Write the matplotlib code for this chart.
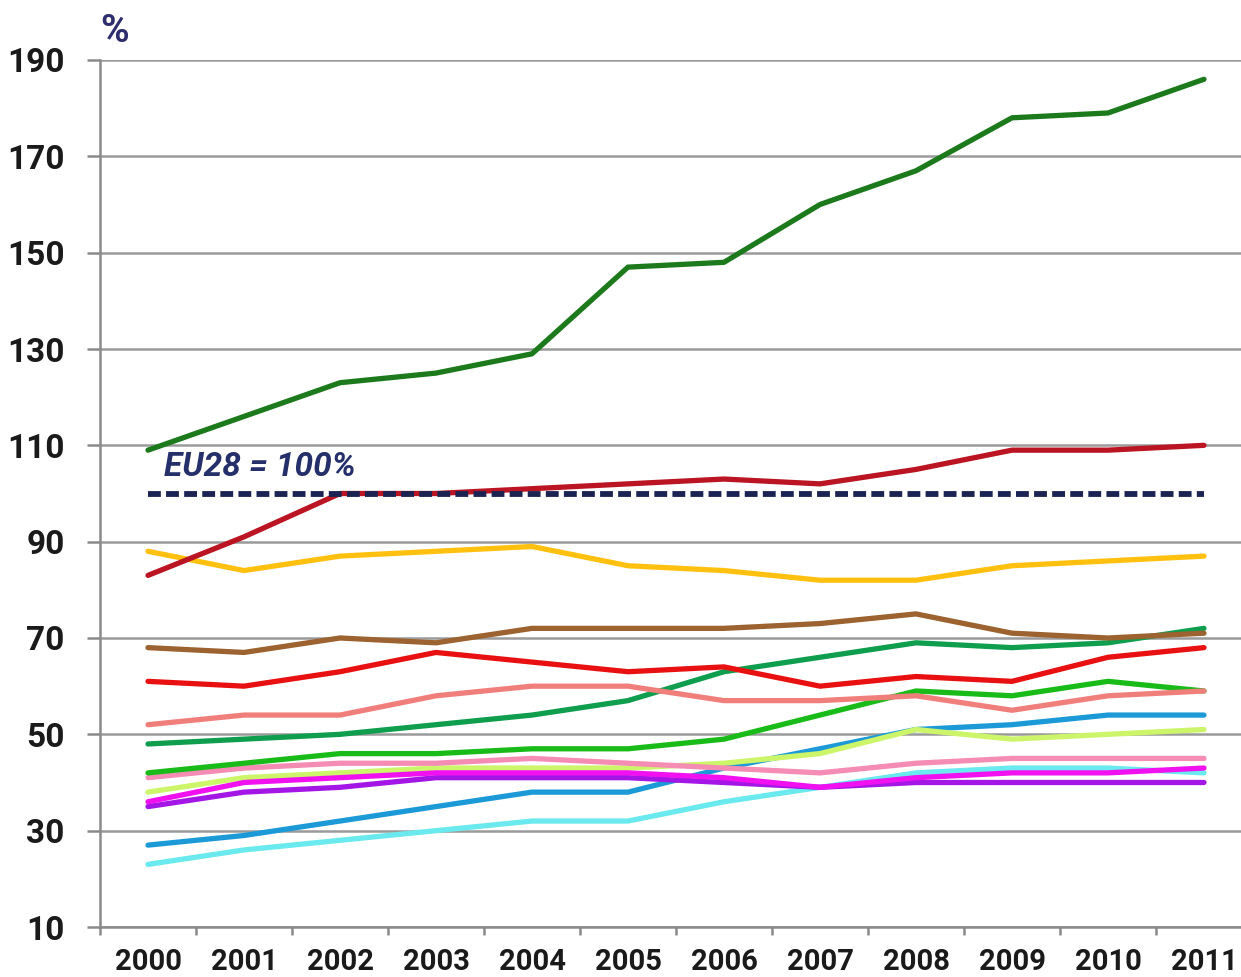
import numpy as np
import matplotlib
matplotlib.use('Agg')
import matplotlib.pyplot as plt

plt.rcParams['font.family'] = ['Roboto', 'DejaVu Sans']

years = ['2000', '2001', '2002', '2003', '2004', '2005',
         '2006', '2007', '2008', '2009', '2010', '2011']

eu28 = [100] * 12

dark_green = [109, 116, 123, 125, 129, 147, 148, 160, 167, 178, 179, 186]
dark_red = [83, 91, 100, 100, 101, 102, 103, 102, 105, 109, 109, 110]
gold = [88, 84, 87, 88, 89, 85, 84, 82, 82, 85, 86, 87]
brown = [68, 67, 70, 69, 72, 72, 72, 73, 75, 71, 70, 71]
red = [61, 60, 63, 67, 65, 63, 64, 60, 62, 61, 66, 68]
salmon = [52, 54, 54, 58, 60, 60, 57, 57, 58, 55, 58, 59]
sea_green = [48, 49, 50, 52, 54, 57, 63, 66, 69, 68, 69, 72]
bright_green = [42, 44, 46, 46, 47, 47, 49, 54, 59, 58, 61, 59]
yellow_green = [38, 41, 42, 43, 43, 43, 44, 46, 51, 49, 50, 51]
blue = [27, 29, 32, 35, 38, 38, 43, 47, 51, 52, 54, 54]
cyan = [23, 26, 28, 30, 32, 32, 36, 39, 42, 43, 43, 42]
pink = [41, 43, 44, 44, 45, 44, 43, 42, 44, 45, 45, 45]
purple = [35, 38, 39, 41, 41, 41, 40, 39, 40, 40, 40, 40]
magenta = [36, 40, 41, 42, 42, 42, 41, 39, 41, 42, 42, 43]

series = [
    (cyan, '#6ae9ef'),
    (blue, '#1c9ad8'),
    (yellow_green, '#ccf56a'),
    (pink, '#f58cb4'),
    (purple, '#a316e6'),
    (magenta, '#f010f0'),
    (bright_green, '#19bb19'),
    (sea_green, '#0f9d4e'),
    (salmon, '#f07f7c'),
    (red, '#e81010'),
    (brown, '#9c6230'),
    (gold, '#ffc010'),
    (dark_red, '#bb1422'),
    (dark_green, '#1c7a1c'),
]

W, H = 1241, 977
fig = plt.figure(figsize=(W / 100, H / 100), dpi=100)
# category axis: 2000 centred at x=148, 96px per year, runs past the right edge
ax = fig.add_axes([100 / W, 50 / H, 1152 / W, 867 / H])

x = np.arange(len(years))
for vals, col in series:
    ax.plot(x, vals, color=col, lw=3.8, solid_capstyle='round', zorder=3)

ax.plot(x, eu28, color='#1b2352', lw=4.2, dashes=(2.2, 0.9), zorder=4)
ax.text(0.17, 102.2, 'EU28 = 100%', color='#25306a', fontsize=24,
        fontweight='bold', fontstyle='italic', va='bottom', ha='left', zorder=5)

ax.set_xlim(-0.5, 11.5)
ax.set_ylim(10, 190)
ax.set_yticks(np.arange(10, 191, 20))
ax.set_xticks(np.arange(-0.5, 12, 1))
ax.set_xticklabels([])
ax.set_xticks(x, minor=True)
ax.set_xticklabels(years, minor=True)

ax.grid(axis='y', color='#9a9a9a', lw=1.8, zorder=1)
for s in ['top', 'right']:
    ax.spines[s].set_visible(False)
for s in ['left', 'bottom']:
    ax.spines[s].set_color('#8a8a8a')
    ax.spines[s].set_linewidth(1.8)

ax.tick_params(axis='y', length=9.5, width=1.8, color='#8a8a8a', pad=16,
               labelsize=24, labelcolor='#1a1a1a')
ax.tick_params(axis='x', which='major', length=6, width=1.8, color='#8a8a8a')
ax.tick_params(axis='x', which='minor', length=0, pad=15, labelsize=21,
               labelcolor='#1a1a1a')
for lab in ax.get_yticklabels() + ax.get_xticklabels(minor=True):
    lab.set_fontweight('bold')

fig.text(100 / W, 1 - 31 / H, '%', color='#2e2e6e', fontsize=28,
         fontweight='bold', va='center', ha='left')

fig.savefig('out.png', dpi=100)
